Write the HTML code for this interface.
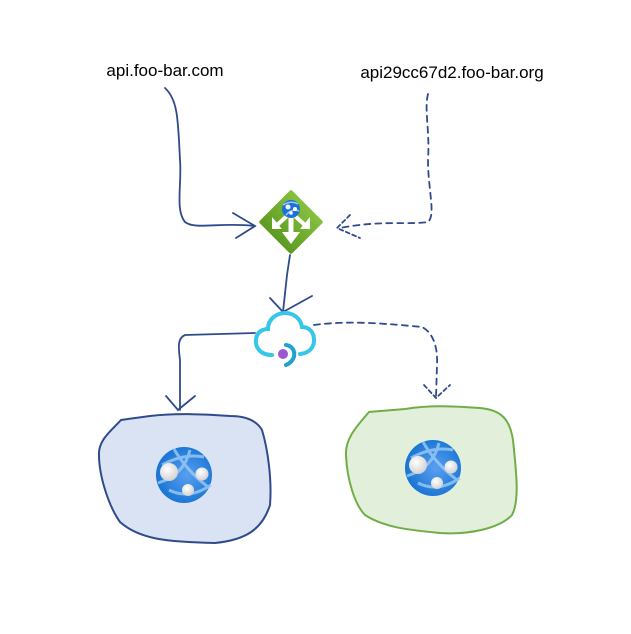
<!DOCTYPE html>
<html><head><style>body{margin:0;background:#fff}svg{display:block}</style></head><body>
<svg width="631" height="634" viewBox="0 0 631 634" xmlns="http://www.w3.org/2000/svg">
<defs>
<radialGradient id="g" cx="0.55" cy="0.5" r="0.6"><stop offset="0" stop-color="#5a9ff0"/><stop offset="1" stop-color="#1170d0"/></radialGradient>
<radialGradient id="w" cx="0.4" cy="0.35" r="0.7"><stop offset="0" stop-color="#fff"/><stop offset="1" stop-color="#cfcfcf"/></radialGradient>
<linearGradient id="d" x1="0" y1="0" x2="0" y2="1"><stop offset="0" stop-color="#86c03e"/><stop offset="1" stop-color="#5c9a22"/></linearGradient>
<g id="globe">
<circle r="28" fill="url(#g)"/>
<path d="M-22,-10 Q0,-22 20,-18 M-10,-26 Q2,-5 24,12 M-26,8 Q0,0 6,-25 M-15,15 Q5,25 27,10" stroke="#9ccaf5" stroke-width="3" fill="none" opacity="0.8"/>
<circle cx="-15" cy="-3" r="9" fill="url(#w)"/>
<circle cx="18" cy="-1" r="6.5" fill="url(#w)"/>
<circle cx="4" cy="15" r="6" fill="url(#w)"/>
</g>
</defs>
<text x="165" y="76" font-family="Liberation Sans, sans-serif" font-size="17" text-anchor="middle" fill="#000">api.foo-bar.com</text>
<text x="452" y="78" font-family="Liberation Sans, sans-serif" font-size="17" text-anchor="middle" fill="#000">api29cc67d2.foo-bar.org</text>
<g stroke="#2f4b8c" stroke-width="1.8" fill="none" stroke-linecap="round">
<path d="M165,88 C178,100 178,120 180,160 C182,185 175,210 185,222 C195,230 220,222 255,226"/>
<path d="M233,213 L255,226 L236,238"/>
<path d="M290,255 L287,275 L283,312"/>
<path d="M270,298 L283,312 L312,296"/>
<path d="M255,333 L185,335 C178,338 178,345 180,360 L180,410"/>
<path d="M166,396 L178,410 L195,396"/>
<path stroke-dasharray="6,5" d="M428,94 C424,110 430,130 428,160 C428,190 436,215 428,222 C410,225 380,220 340,228"/>
<path stroke-dasharray="4,3" d="M350,215 L337,228 L360,238"/>
<path stroke-dasharray="6,5" d="M314,325 C350,320 390,324 422,327 C432,332 438,345 437,365 L436,398"/>
<path stroke-dasharray="4,3" d="M424,385 L436,398 L450,385"/>
</g>
<path d="M121,420 C112,430 98,440 99,455 C99,475 108,505 120,522 C140,540 170,542 215,543 C245,540 262,530 270,505 C272,480 268,450 262,430 C255,418 240,416 230,416 C200,414 175,413 150,416 Z" fill="#dae3f3" stroke="#2f4b8c" stroke-width="2"/>
<path d="M369,412 C358,425 345,438 346,455 C347,480 355,505 365,515 C385,528 410,530 440,533 C470,535 500,528 512,515 C520,500 516,470 513,440 C510,420 502,410 480,408 C450,406 430,405 405,409 Z" fill="#e2efda" stroke="#70ad47" stroke-width="2"/>
<use href="#globe" x="184" y="475"/>
<use href="#globe" x="433" y="468"/>
<rect x="268" y="199" width="46" height="46" fill="url(#d)" transform="rotate(45 291 222)" rx="2"/>
<g fill="#fff">
<rect x="288.5" y="215" width="5" height="18"/><path d="M282,232 L300,232 L291,244 Z"/>
<path d="M287,216 L276,226 M295,216 L306,226" stroke="#fff" stroke-width="4"/>
<path d="M272,217 L272,229 L282,229 Z M310,217 L310,229 L300,229 Z"/>
</g>
<circle cx="291" cy="209" r="9" fill="#1a73d8"/>
<path d="M283,205 Q291,200 298,204 M286,215 Q292,208 299,211" stroke="#9ccaf5" stroke-width="1.5" fill="none"/>
<circle cx="288" cy="207" r="2.5" fill="#fff"/><circle cx="295" cy="209" r="2" fill="#fff"/><circle cx="291" cy="213" r="1.8" fill="#fff"/>
<path d="M272,355 C260,355 255,347 256,339 C257,331 264,329 268,329 C268,318 278,313 285,313 C295,313 301,320 302,327 C310,327 314,333 314,340 C314,348 309,353 300,354" fill="none" stroke="#35c6ea" stroke-width="4" stroke-linecap="round"/>
<path d="M286,345 C296,346 298,360 286,365" fill="none" stroke="#1fa2cf" stroke-width="4" stroke-linecap="round"/>
<circle cx="283" cy="354" r="5" fill="#9b59d0"/>
</svg>
</body></html>
